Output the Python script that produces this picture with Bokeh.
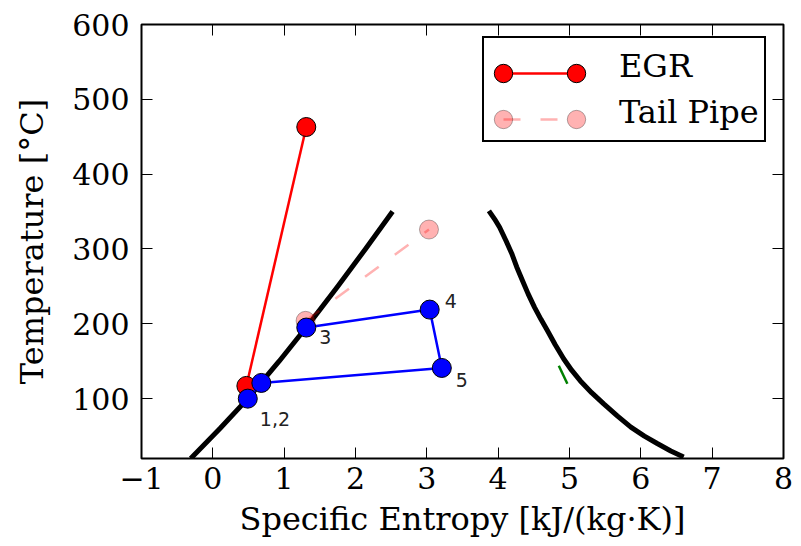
from bokeh.plotting import figure
from bokeh.models import (ColumnDataSource, Legend, LegendItem, LinearAxis,
                          FixedTicker, Range1d)
from bokeh.core.properties import value
from bokeh.embed import file_html
from bokeh.resources import INLINE

# --- saturation dome (liquid and vapour branches) ---
liquid_s = [-0.31, 0.10, 0.49, 0.93, 1.35, 1.75, 2.14, 2.52]
liquid_T = [20, 60, 100, 150, 200, 250, 300, 350]
vapour_s = [3.87, 3.95, 4.02, 4.11, 4.19, 4.26, 4.34, 4.42, 4.51, 4.60, 4.69,
            4.80, 4.92, 5.03, 5.15, 5.31, 5.48, 5.67, 5.86, 6.05, 6.23, 6.42, 6.60]
vapour_T = [351, 340, 329, 311, 294, 276, 258, 240, 222, 206, 191,
            172, 153, 138, 124, 108, 93, 77, 62, 50, 40, 30, 22]

# --- heat-source streams ---
egr_s = [0.47, 1.31]
egr_T = [117, 463]
tail_s = [1.30, 3.03]
tail_T = [204, 326]

# --- working-fluid cycle ---
cycle_s = [0.49, 0.68, 3.21, 3.04, 1.31]
cycle_T = [100, 121, 141, 219, 195]
expander_s = [4.85, 4.97]
expander_T = [144, 120]

state_names = ["1,2", "3", "4", "5"]
state_index = [0, 4, 3, 2]

series_names = ["EGR", "Tail Pipe"]

x_ticks = [-1, 0, 1, 2, 3, 4, 5, 6, 7, 8]
y_ticks = [100, 200, 300, 400, 500, 600]

SERIF = "DejaVu Serif"
TICK_PX = "30px"
LABEL_PX = "32px"

p = figure(width=801, height=546, x_range=Range1d(-1, 8), y_range=Range1d(20, 600),
           output_backend="svg", toolbar_location=None,
           x_axis_label="Specific Entropy [kJ/(kg·K)]",
           y_axis_label="Temperature [°C]",
           min_border_left=141, min_border_right=18,
           min_border_top=24, min_border_bottom=88)
p.xgrid.visible = False
p.ygrid.visible = False
p.background_fill_color = "white"
p.border_fill_color = "white"
p.outline_line_color = "black"
p.outline_line_width = 2
p.outline_line_alpha = 1

top_axis = LinearAxis()
right_axis = LinearAxis()
p.add_layout(top_axis, "above")
p.add_layout(right_axis, "right")


def style_axis(ax, ticks, labelled):
    ax.ticker = FixedTicker(ticks=ticks)
    ax.axis_line_color = None
    ax.major_tick_in = 11
    ax.major_tick_out = 0
    ax.major_tick_line_color = "black"
    ax.major_tick_line_width = 1
    ax.minor_tick_line_color = None
    if labelled:
        ax.major_label_text_font = SERIF
        ax.major_label_text_font_size = TICK_PX
        ax.major_label_text_color = "black"
        ax.axis_label_text_font = SERIF
        ax.axis_label_text_font_size = LABEL_PX
        ax.axis_label_text_font_style = "normal"
        ax.axis_label_text_color = "black"
    else:
        # tick marks only on the top and right edges
        ax.major_label_text_font_size = "1px"
        ax.major_label_text_color = None
        ax.major_label_standoff = 0
        ax.axis_label = None


bottom_axis = p.below[0]
left_axis = p.left[0]
style_axis(bottom_axis, x_ticks, True)
style_axis(left_axis, y_ticks, True)
style_axis(top_axis, x_ticks, False)
style_axis(right_axis, y_ticks, False)
bottom_axis.major_label_overrides = {-1: "\u22121"}
bottom_axis.major_label_standoff = 8
bottom_axis.axis_label_standoff = 8
left_axis.major_label_standoff = 12
left_axis.axis_label_standoff = 18

# saturation dome
p.line(liquid_s, liquid_T, line_color="black", line_width=5, line_join="round")
p.line(vapour_s, vapour_T, line_color="black", line_width=5, line_join="round")

# EGR stream
egr_line = p.line(egr_s, egr_T, line_color="red", line_width=2.5)
egr_pts = p.scatter(egr_s, egr_T, size=19, fill_color="red", line_color="black",
                    line_width=1)

# tail-pipe stream
tail_line = p.line(tail_s, tail_T, line_color="red", line_alpha=0.3, line_width=2.5,
                   line_dash="17 20")
tail_pts = p.scatter(tail_s, tail_T, size=19, fill_color="red", fill_alpha=0.3,
                     line_color="black", line_alpha=0.3, line_width=1)

# cycle
p.line(cycle_s, cycle_T, line_color="blue", line_width=2.5, line_join="round")
p.line(expander_s, expander_T, line_color="green", line_width=2.5)
p.scatter(cycle_s, cycle_T, size=19, fill_color="blue", line_color="black", line_width=1)

labels = ColumnDataSource(dict(
    s=[cycle_s[i] for i in state_index],
    T=[cycle_T[i] for i in state_index],
    name=state_names,
    dx=[12, 13, 15, 14],
    dy=[20, 9, -9, 12],
))
p.text("s", "T", text="name", x_offset="dx", y_offset="dy", source=labels,
       text_font=value("DejaVu Sans"), text_font_size="19px", text_color="#222222",
       text_align="left", text_baseline="middle")

# legend: a framed box with the labels, then line and end-marker samples
# drawn by label-less legends stacked on top of it (same row geometry)
blank = p.line([], [], line_alpha=0)
LEG_BOTTOM = 316
rows = dict(padding=5, spacing=0, glyph_height=46, label_height=46,
            label_text_font=SERIF, label_text_font_size=LABEL_PX, margin=0)


def make_legend(renderers, x, glyph_width, framed):
    if framed:
        items = [LegendItem(label=name, renderers=[r])
                 for name, r in zip(series_names, renderers)]
        style = dict(label_standoff=34, border_line_color="black",
                     border_line_width=2, border_line_alpha=1,
                     background_fill_color="white", background_fill_alpha=1,
                     label_text_color="black")
    else:
        items = [LegendItem(label="", renderers=[r]) for r in renderers]
        style = dict(label_standoff=0, border_line_color=None,
                     background_fill_alpha=0, label_text_color=None)
    return Legend(items=items, location=(x, LEG_BOTTOM), glyph_width=glyph_width,
                  **rows, **style)


p.add_layout(make_legend([blank, blank], 341, 96, True), "center")
p.add_layout(make_legend([egr_line, tail_line], 362, 73, False), "center")
p.add_layout(make_legend([egr_pts, tail_pts], 339, 46, False), "center")
p.add_layout(make_legend([egr_pts, tail_pts], 412, 46, False), "center")

open("out.html", "w").write(file_html(p, INLINE))
